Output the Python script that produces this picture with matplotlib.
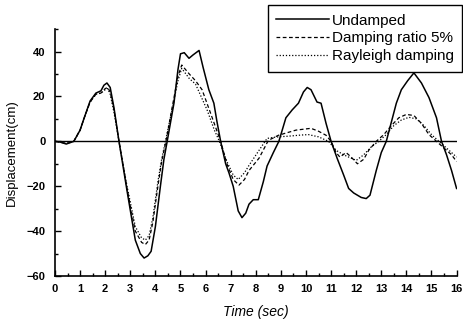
import matplotlib
matplotlib.use("Agg")
import matplotlib.pyplot as plt
from matplotlib.ticker import MultipleLocator

plt.rcParams['font.family'] = ['Liberation Sans', 'DejaVu Sans']

# Undamped response
t_und = [0.0, 0.2, 0.45, 0.75, 1.0, 1.15, 1.4, 1.63, 1.83, 1.95, 2.07, 2.2, 2.35, 2.55,
         2.87, 3.2, 3.4, 3.55, 3.7, 3.83, 4.0, 4.2, 4.34, 4.47, 4.74, 4.9, 5.0, 5.15,
         5.34, 5.5, 5.74, 5.9, 6.13, 6.33, 6.45, 6.6, 6.8, 6.93, 7.1, 7.3, 7.45, 7.6,
         7.73, 7.9, 8.1, 8.3, 8.45, 8.7, 8.92, 9.2, 9.45, 9.7, 9.9, 10.05, 10.2, 10.44,
         10.6, 10.8, 11.0, 11.24, 11.5, 11.7, 11.9, 12.2, 12.4, 12.55, 12.8, 13.0, 13.2,
         13.6, 13.8, 14.05, 14.3, 14.6, 14.9, 15.2, 15.4, 15.6, 15.8, 16.0]
d_und = [0, -0.3, -1.2, 0, 5, 10, 18, 21.5, 22.5, 25, 26, 24, 15, 0,
         -22, -44, -50, -52, -51, -49, -38, -20, -8, 0, 17, 32, 39, 39.5,
         37, 38.5, 40.5, 33, 23, 17, 9, 0, -10, -14, -20, -31, -34, -32,
         -28, -26, -26, -18, -11, -5, 0, 10.5, 14, 17, 22, 24, 23, 17.5,
         17, 8, 0, -7.5, -15, -21, -23, -25, -25.5, -24, -13, -5, 0,
         17, 23, 27, 30.5, 26, 19.5, 10.5, 0, -6, -13, -21]

# 5% damping ratio
t_d5 = [0.0, 0.2, 0.45, 0.75, 1.0, 1.15, 1.4, 1.63, 1.83, 2.0, 2.1, 2.2, 2.35, 2.55,
        2.87, 3.2, 3.45, 3.6, 3.75, 3.9, 4.1, 4.25, 4.42, 4.7, 4.9, 5.05, 5.35, 5.6,
        5.86, 6.2, 6.6, 6.85, 7.1, 7.33, 7.55, 7.73, 8.13, 8.5, 8.9, 9.6, 10.2, 10.5,
        10.8, 11.0, 11.2, 11.35, 11.6, 11.8, 12.05, 12.3, 12.5, 12.8, 13.1, 13.4, 13.7,
        14.0, 14.3, 14.6, 14.9, 15.2, 15.5, 15.8, 16.0]
d_d5 = [0, -0.3, -1, 0, 5, 10, 17.5, 21, 21.5, 23.5, 24, 22, 14, 0,
        -21, -40, -45, -46, -44, -36, -20, -9, 0, 17, 29, 34, 30, 27,
        23, 12.5, 0, -10, -17, -19.5, -17, -13, -7.5, 0.4, 2.7, 5, 5.8, 4.5,
        2.7, 0, -5, -7, -5, -7, -10, -8, -4, 0, 3, 7, 10.5,
        12, 11.5, 8, 3, 0, -3, -6, -9]

# Rayleigh damping
t_ray = [0.0, 0.2, 0.45, 0.75, 1.0, 1.15, 1.4, 1.63, 1.83, 2.0, 2.1, 2.2, 2.35, 2.55,
         2.87, 3.2, 3.45, 3.6, 3.75, 3.9, 4.1, 4.25, 4.4, 4.7, 4.9, 5.05, 5.35, 5.6,
         6.06, 6.35, 6.55, 6.85, 7.1, 7.3, 7.55, 7.73, 8.13, 8.45, 8.8, 9.3, 9.8, 10.1,
         10.5, 10.9, 11.2, 11.5, 11.8, 12.0, 12.3, 12.6, 12.9, 13.2, 13.5, 13.8, 14.1,
         14.4, 14.7, 15.0, 15.3, 15.6, 16.0]
d_ray = [0, -0.3, -1, 0, 5, 10, 17.5, 21, 21.5, 23, 23.5, 21, 13, 0,
         -20, -38, -43, -44, -42, -34, -18, -8, 0, 16, 27, 32.5, 28, 25.5,
         14, 5, 0, -9, -15, -17, -14, -10.7, -4, 1.3, 1.9, 2.3, 2.8, 3,
         2, 0, -4, -6, -7.5, -8.5, -6, -2.5, 0, 3, 7, 9.5, 10.7,
         10, 7, 3, 0, -3, -7]

fig = plt.figure(figsize=(4.64, 3.2), dpi=100)
ax = fig.add_axes([0.1185, 0.1375, 0.8655, 0.7715])

ax.plot(t_und, d_und, color='black', lw=1.1, ls='-', label='Undamped')
ax.plot(t_d5, d_d5, color='black', lw=0.9, ls=(0, (3, 2)), label='Damping ratio 5%')
ax.plot(t_ray, d_ray, color='black', lw=0.9, ls=(0, (1, 1.5)), label='Rayleigh damping')
ax.axhline(0, color='black', lw=1.0)

ax.set_xlim(0, 16)
ax.set_ylim(-60, 50)
ax.xaxis.set_major_locator(MultipleLocator(1))
ax.xaxis.set_minor_locator(MultipleLocator(0.5))
ax.yaxis.set_major_locator(MultipleLocator(20))
ax.yaxis.set_minor_locator(MultipleLocator(10))
ax.tick_params(which='both', direction='in', width=1, labelsize=8)
ax.tick_params(which='major', length=4)
ax.tick_params(which='minor', length=2.5)
ax.tick_params(axis='x', which='major', pad=6)
ax.tick_params(axis='y', which='major', pad=7)
for lab in ax.get_xticklabels() + ax.get_yticklabels():
    lab.set_fontweight('bold')

for side in ('top', 'right'):
    ax.spines[side].set_visible(False)
for side in ('left', 'bottom'):
    ax.spines[side].set_linewidth(1.2)

ax.set_xlabel('Time (sec)', fontsize=10, style='italic', labelpad=8)
ax.set_ylabel('Displacement(cm)', fontsize=9.5, labelpad=6)

leg = fig.legend(loc='upper right', bbox_to_anchor=(0.996, 0.984),
                 bbox_transform=fig.transFigure, fontsize=11, fancybox=False,
                 framealpha=1, edgecolor='black', handlelength=3.5,
                 handletextpad=0.15, borderpad=0.55, labelspacing=0.25,
                 borderaxespad=0)
leg.get_frame().set_linewidth(1.0)

fig.savefig('out.png', dpi=100)
